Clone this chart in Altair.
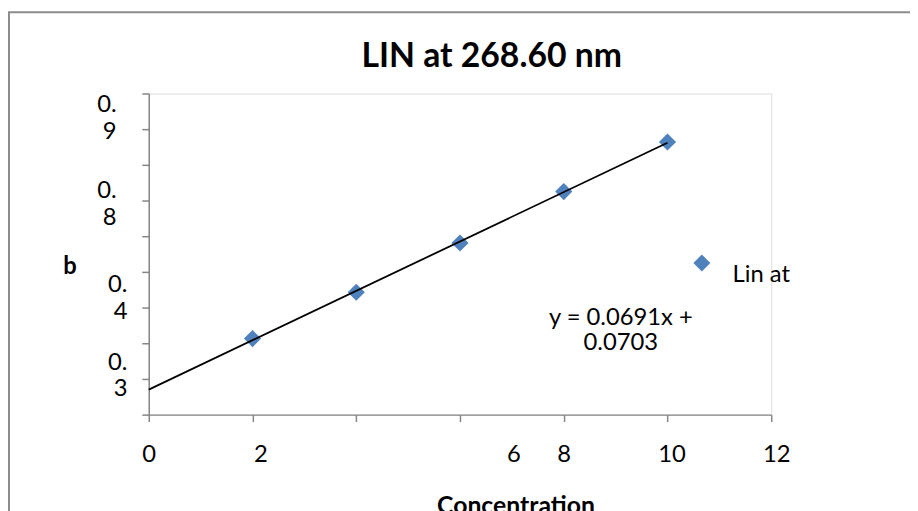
import altair as alt
import pandas as pd

# ---- data ----
title_text = "LIN at 268.60 nm"
series_name = "Lin at"
x_title = "Concentration"
y_title = "b"

conc = [2, 4, 6, 8, 10]
absorb = [0.213, 0.343, 0.481, 0.625, 0.764]

slope = 0.0691
intercept = 0.0703

x_ticks = [0, 2, 4, 6, 8, 10, 12]
x_tick_labels = ["0", "2", "", "6", "8", "10", "12"]

y_ticks = [0.0, 0.1, 0.2, 0.3, 0.4, 0.5, 0.6, 0.7, 0.8, 0.9]
y_label_ticks = [0.9, 0.6, 0.4, 0.1]
y_label_texts = ["0.9", "0.8", "0.4", "0.3"]

# ---- styling ----
FONT = "Lato"
GREY = "#868686"
BLUE = "#4F81BD"
FS = 24

x_expr = " : ".join(
    f"datum.value == {v} ? '{t}'" for v, t in zip(x_ticks, x_tick_labels)
) + " : ''"


def split_label(t):
    a, b = t.split(".")
    return f"['{a}.', '{b}']"


y_expr = " : ".join(
    f"abs(datum.value - {v}) < 1e-6 ? {split_label(t)}"
    for v, t in zip(y_label_ticks, y_label_texts)
) + " : ''"

df = pd.DataFrame({"conc": conc, "abs": absorb, "series": series_name})

x_axis = alt.Axis(
    values=x_ticks,
    tickCount=len(x_ticks),
    labelExpr=x_expr,
    labelFont=FONT,
    labelFontSize=FS,
    labelColor="black",
    labelFlush=False,
    labelOverlap=False,
    labelBaseline="top",
    labelPadding=21,
    labelOffset={
        "condition": [
            {"test": "datum.value == 2", "value": 8},
            {"test": "datum.value == 6", "value": 54},
            {"test": "datum.value == 10", "value": 4},
            {"test": "datum.value == 12", "value": 5},
        ],
        "value": 0,
    },
    tickSize=7,
    tickColor=GREY,
    tickWidth=1.5,
    domainColor=GREY,
    domainWidth=1.5,
    grid=False,
    title=x_title,
    titleFont=FONT,
    titleFontSize=25,
    titleFontWeight="bold",
    titleColor="black",
    titleX=370,
    titleY=92,
    titleAlign="center",
    titleBaseline="middle",
)

y_axis = alt.Axis(
    values=y_ticks,
    tickCount=len(y_ticks),
    labelExpr=y_expr,
    labelFont=FONT,
    labelFontSize=FS,
    labelColor="black",
    labelOverlap=False,
    labelLineHeight=27,
    labelAlign="right",
    labelBaseline="middle",
    labelOffset={
        "condition": [
            {"test": "abs(datum.value - 0.9) < 1e-6", "value": 11},
            {"test": "abs(datum.value - 0.6) < 1e-6", "value": -10},
            {"test": "abs(datum.value - 0.4) < 1e-6", "value": 13},
            {"test": "abs(datum.value - 0.1) < 1e-6", "value": -17},
        ],
        "value": 0,
    },
    labelPadding={
        "condition": [
            {"test": "datum.value > 0.5", "value": 26},
        ],
        "value": 15,
    },
    tickSize=7,
    tickColor=GREY,
    tickWidth=1.5,
    domainColor=GREY,
    domainWidth=1.5,
    grid=False,
    title=y_title,
    titleFont=FONT,
    titleFontSize=FS,
    titleFontWeight="bold",
    titleColor="black",
    titleAngle=0,
    titleX=-80,
    titleY=175,
    titleAlign="center",
    titleBaseline="middle",
)

x_enc = alt.X("conc:Q", scale=alt.Scale(domain=[0, 12], nice=False), axis=x_axis)
y_enc = alt.Y("abs:Q", scale=alt.Scale(domain=[0, 0.9], nice=False, zero=False), axis=y_axis)

legend = alt.Legend(
    title=None,
    orient="none",
    legendX=546,
    legendY=159,
    padding=0,
    symbolSize=290,
    symbolStrokeWidth=0,
    labelFont=FONT,
    labelFontSize=FS,
    labelColor="black",
    labelOffset=19,
    labelBaseline="top",
)

points = alt.Chart(df).mark_point(filled=True, size=300, opacity=1, strokeWidth=0).encode(
    x=x_enc,
    y=y_enc,
    color=alt.Color("series:N", scale=alt.Scale(domain=[series_name], range=[BLUE]), legend=legend),
    shape=alt.Shape("series:N", scale=alt.Scale(domain=[series_name], range=["diamond"]), legend=legend),
)

trend = (
    alt.Chart(df)
    .transform_regression("conc", "abs", extent=[0, 10])
    .mark_line(color="black", strokeWidth=1.8)
    .encode(x="conc:Q", y="abs:Q")
)

eq_anchor_x = 9.1
eq_anchor_y = 0.272
equation = (
    alt.Chart(pd.DataFrame({"k": [0]}))
    .mark_text(
        text=[f"y = {slope}x +", f"{intercept}"],
        font=FONT,
        fontSize=FS,
        color="black",
        align="center",
        baseline="middle",
        lineHeight=26,
    )
    .encode(x=alt.datum(eq_anchor_x), y=alt.datum(eq_anchor_y))
)

border = (
    alt.Chart(pd.DataFrame({"k": [0]}))
    .mark_rect(fillOpacity=0, stroke="#8c8c8c", strokeWidth=2)
    .encode(x=alt.value(-141), x2=alt.value(1000), y=alt.value(-82), y2=alt.value(700))
)

chart = (
    alt.layer(border, points, trend, equation)
    .properties(
        width=628,
        height=324,
        title=alt.TitleParams(
            title_text,
            font=FONT,
            fontSize=34,
            fontWeight="bold",
            color="black",
            anchor="middle",
            frame="group",
            baseline="alphabetic",
            dx=32,
            dy=90,
            offset=0,
        ),
        autosize=alt.AutoSizeParams(type="none"),
        padding={"left": 142, "top": 84, "right": 140, "bottom": 95},
    )
    .configure_view(stroke=None)
    .configure(background="white", font=FONT)
)

chart.save("out.html", embed_options={"renderer": "svg", "actions": False})
